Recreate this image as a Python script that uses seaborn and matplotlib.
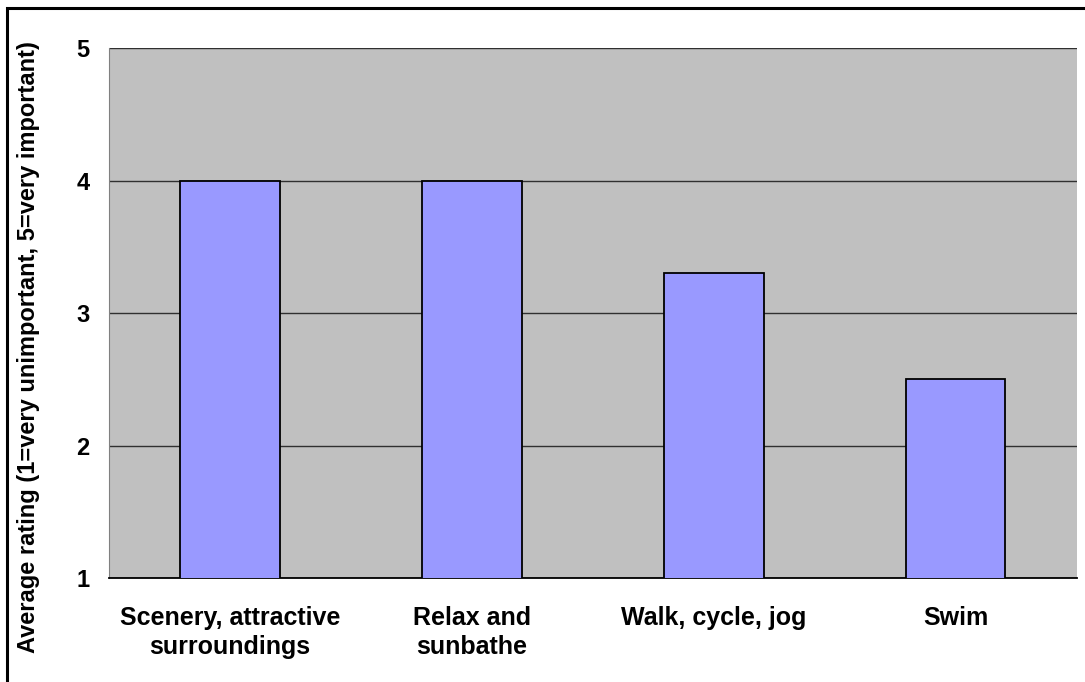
import pandas as pd
import seaborn as sns
import matplotlib.pyplot as plt
from matplotlib.patches import Rectangle

activities = ["Scenery, attractive\nsurroundings", "Relax and\nsunbathe", "Walk, cycle, jog", "Swim"]
ratings = [4.0, 4.0, 3.3, 2.5]
y_ticks = [1, 2, 3, 4, 5]

df = pd.DataFrame({"Activity": activities, "Rating": ratings})

sns.set_style("white")
plt.rcParams["font.family"] = ["Liberation Sans", "DejaVu Sans"]
plt.rcParams["font.weight"] = "bold"
plt.rcParams["text.color"] = "black"
plt.rcParams["axes.labelcolor"] = "black"
plt.rcParams["xtick.labelcolor"] = "black"
plt.rcParams["ytick.labelcolor"] = "black"

fig = plt.figure(figsize=(10.85, 6.82), dpi=100)
ax = fig.add_axes([0.1005, 0.1525, 0.892, 0.777])

sns.barplot(data=df, x="Activity", y="Rating", color="#9999FF", saturation=1,
            width=0.41, edgecolor="black", linewidth=1.3, bottom=0, ax=ax, zorder=3)

ax.set_facecolor("#C0C0C0")
ax.set_ylim(1, 5)
ax.set_xlim(-0.5, len(activities) - 0.5)
ax.set_yticks(y_ticks)
ax.yaxis.grid(True, color="#303030", linewidth=1.0, zorder=1)
ax.set_axisbelow(True)

for side in ("top", "right"):
    ax.spines[side].set_visible(False)
ax.spines["left"].set_color("#808080")
ax.spines["bottom"].set_color("black")
ax.spines["bottom"].set_linewidth(1.3)

# category separators on the x axis
ax.set_xticks([i + 0.5 for i in range(-1, len(activities))], minor=True)
ax.tick_params(axis="x", which="major", length=0, pad=20, labelsize=18, labelcolor="black")
ax.tick_params(axis="x", which="minor", length=7, width=1, color="#606060", direction="out")
ax.tick_params(axis="y", length=6, width=1, color="#606060", direction="out", labelsize=17,
               pad=8, labelcolor="black")
for lbl in ax.get_xticklabels():
    lbl.set_linespacing(1.25)
    lbl.set_fontweight("bold")
for lbl in ax.get_yticklabels():
    lbl.set_fontweight("bold")

ax.set_xlabel("")
ax.set_ylabel("Average rating (1=very unimportant, 5=very important)", fontsize=17,
              fontweight="bold", color="black")
ax.yaxis.set_label_coords(-0.071, 0.436)

fig.patches.append(Rectangle((0.0065, -0.1), 1.2, 0.1 + 1 - 0.0117, transform=fig.transFigure,
                             fill=False, edgecolor="black", linewidth=2.2))

fig.savefig("out.png", dpi=100)
